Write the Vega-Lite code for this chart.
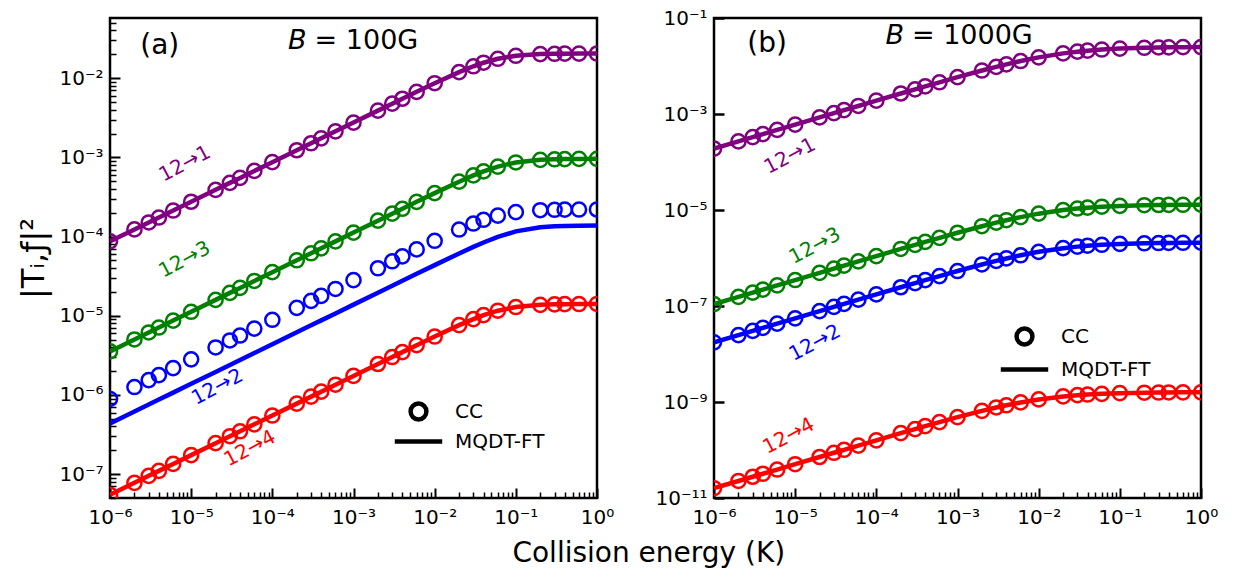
{
"$schema": "https://vega.github.io/schema/vega-lite/v6.json",
"background": "white",
"padding": {"left": 16, "top": 6, "right": 5, "bottom": 5},
"bounds": "flush",
"spacing": 117,
"config": {
  "view": {"stroke": "black", "strokeWidth": 2.5},
  "font": "DejaVu Sans",
  "axis": {"grid": false, "domain": false, "labelFont": "DejaVu Sans", "labelFontSize": 20, "labelColor": "black", "tickColor": "black", "titleFont": "DejaVu Sans", "titleFontWeight": "normal", "titleColor": "black", "labelFlush": false, "labelOverlap": false, "labelBound": false},
  "text": {"font": "DejaVu Sans"}
},
"title": {"text": "Collision energy (K)", "orient": "bottom", "anchor": "middle", "frame": "bounds", "fontSize": 28, "font": "DejaVu Sans", "fontWeight": "normal", "color": "black", "offset": 12, "dx": 31},
"datasets": {
"a": [
{"E":1e-6,"s":"12→1","cc":8.700e-5,"ft":8.700e-5},{"E":2e-6,"s":"12→1","cc":1.230e-4,"ft":1.230e-4},{"E":3e-6,"s":"12→1","cc":1.507e-4,"ft":1.507e-4},{"E":4e-6,"s":"12→1","cc":1.740e-4,"ft":1.740e-4},{"E":6e-6,"s":"12→1","cc":2.131e-4,"ft":2.131e-4},
{"E":1e-5,"s":"12→1","cc":2.751e-4,"ft":2.751e-4},{"E":2e-5,"s":"12→1","cc":3.891e-4,"ft":3.891e-4},{"E":3e-5,"s":"12→1","cc":4.765e-4,"ft":4.765e-4},{"E":4e-5,"s":"12→1","cc":5.503e-4,"ft":5.503e-4},{"E":6e-5,"s":"12→1","cc":6.739e-4,"ft":6.739e-4},
{"E":1e-4,"s":"12→1","cc":8.700e-4,"ft":8.700e-4},{"E":2e-4,"s":"12→1","cc":1.230e-3,"ft":1.230e-3},{"E":3e-4,"s":"12→1","cc":1.507e-3,"ft":1.507e-3},{"E":4e-4,"s":"12→1","cc":1.740e-3,"ft":1.740e-3},{"E":6e-4,"s":"12→1","cc":2.131e-3,"ft":2.131e-3},
{"E":1e-3,"s":"12→1","cc":2.751e-3,"ft":2.751e-3},{"E":2e-3,"s":"12→1","cc":3.890e-3,"ft":3.890e-3},{"E":3e-3,"s":"12→1","cc":4.762e-3,"ft":4.762e-3},{"E":4e-3,"s":"12→1","cc":5.496e-3,"ft":5.496e-3},{"E":6e-3,"s":"12→1","cc":6.719e-3,"ft":6.719e-3},
{"E":1e-2,"s":"12→1","cc":8.631e-3,"ft":8.631e-3},{"E":2e-2,"s":"12→1","cc":1.193e-2,"ft":1.193e-2},{"E":3e-2,"s":"12→1","cc":1.413e-2,"ft":1.413e-2},{"E":4e-2,"s":"12→1","cc":1.567e-2,"ft":1.567e-2},{"E":6e-2,"s":"12→1","cc":1.756e-2,"ft":1.756e-2},
{"E":0.1,"s":"12→1","cc":1.916e-2,"ft":1.916e-2},{"E":0.2,"s":"12→1","cc":2.012e-2,"ft":2.012e-2},{"E":0.3,"s":"12→1","cc":2.033e-2,"ft":2.033e-2},{"E":0.4,"s":"12→1","cc":2.040e-2,"ft":2.040e-2},{"E":0.6,"s":"12→1","cc":2.045e-2,"ft":2.045e-2},{"E":1,"s":"12→1","cc":2.048e-2,"ft":2.048e-2},
{"E":1e-6,"s":"12→3","cc":3.550e-6,"ft":3.550e-6},{"E":2e-6,"s":"12→3","cc":5.020e-6,"ft":5.020e-6},{"E":3e-6,"s":"12→3","cc":6.149e-6,"ft":6.149e-6},{"E":4e-6,"s":"12→3","cc":7.100e-6,"ft":7.100e-6},{"E":6e-6,"s":"12→3","cc":8.695e-6,"ft":8.695e-6},
{"E":1e-5,"s":"12→3","cc":1.123e-5,"ft":1.123e-5},{"E":2e-5,"s":"12→3","cc":1.588e-5,"ft":1.588e-5},{"E":3e-5,"s":"12→3","cc":1.944e-5,"ft":1.944e-5},{"E":4e-5,"s":"12→3","cc":2.245e-5,"ft":2.245e-5},{"E":6e-5,"s":"12→3","cc":2.750e-5,"ft":2.750e-5},
{"E":1e-4,"s":"12→3","cc":3.550e-5,"ft":3.550e-5},{"E":2e-4,"s":"12→3","cc":5.020e-5,"ft":5.020e-5},{"E":3e-4,"s":"12→3","cc":6.149e-5,"ft":6.149e-5},{"E":4e-4,"s":"12→3","cc":7.100e-5,"ft":7.100e-5},{"E":6e-4,"s":"12→3","cc":8.695e-5,"ft":8.695e-5},
{"E":1e-3,"s":"12→3","cc":1.123e-4,"ft":1.123e-4},{"E":2e-3,"s":"12→3","cc":1.587e-4,"ft":1.587e-4},{"E":3e-3,"s":"12→3","cc":1.944e-4,"ft":1.944e-4},{"E":4e-3,"s":"12→3","cc":2.244e-4,"ft":2.244e-4},{"E":6e-3,"s":"12→3","cc":2.745e-4,"ft":2.745e-4},
{"E":1e-2,"s":"12→3","cc":3.534e-4,"ft":3.534e-4},{"E":2e-2,"s":"12→3","cc":4.930e-4,"ft":4.930e-4},{"E":3e-2,"s":"12→3","cc":5.914e-4,"ft":5.914e-4},{"E":4e-2,"s":"12→3","cc":6.650e-4,"ft":6.650e-4},{"E":6e-2,"s":"12→3","cc":7.645e-4,"ft":7.645e-4},
{"E":0.1,"s":"12→3","cc":8.624e-4,"ft":8.624e-4},{"E":0.2,"s":"12→3","cc":9.302e-4,"ft":9.302e-4},{"E":0.3,"s":"12→3","cc":9.461e-4,"ft":9.461e-4},{"E":0.4,"s":"12→3","cc":9.521e-4,"ft":9.521e-4},{"E":0.6,"s":"12→3","cc":9.564e-4,"ft":9.564e-4},{"E":1,"s":"12→3","cc":9.589e-4,"ft":9.589e-4},
{"E":1e-6,"s":"12→2","cc":8.900e-7,"ft":4.370e-7},{"E":2e-6,"s":"12→2","cc":1.259e-6,"ft":6.180e-7},{"E":3e-6,"s":"12→2","cc":1.542e-6,"ft":7.569e-7},{"E":4e-6,"s":"12→2","cc":1.780e-6,"ft":8.740e-7},{"E":6e-6,"s":"12→2","cc":2.180e-6,"ft":1.070e-6},
{"E":1e-5,"s":"12→2","cc":2.814e-6,"ft":1.382e-6},{"E":2e-5,"s":"12→2","cc":3.980e-6,"ft":1.954e-6},{"E":3e-5,"s":"12→2","cc":4.875e-6,"ft":2.394e-6},{"E":4e-5,"s":"12→2","cc":5.629e-6,"ft":2.764e-6},{"E":6e-5,"s":"12→2","cc":6.894e-6,"ft":3.385e-6},
{"E":1e-4,"s":"12→2","cc":8.900e-6,"ft":4.370e-6},{"E":2e-4,"s":"12→2","cc":1.259e-5,"ft":6.180e-6},{"E":3e-4,"s":"12→2","cc":1.542e-5,"ft":7.569e-6},{"E":4e-4,"s":"12→2","cc":1.780e-5,"ft":8.740e-6},{"E":6e-4,"s":"12→2","cc":2.180e-5,"ft":1.070e-5},
{"E":1e-3,"s":"12→2","cc":2.814e-5,"ft":1.382e-5},{"E":2e-3,"s":"12→2","cc":3.979e-5,"ft":1.954e-5},{"E":3e-3,"s":"12→2","cc":4.872e-5,"ft":2.393e-5},{"E":4e-3,"s":"12→2","cc":5.623e-5,"ft":2.763e-5},{"E":6e-3,"s":"12→2","cc":6.877e-5,"ft":3.382e-5},
{"E":1e-2,"s":"12→2","cc":8.841e-5,"ft":4.359e-5},{"E":2e-2,"s":"12→2","cc":1.227e-4,"ft":6.120e-5},{"E":3e-2,"s":"12→2","cc":1.460e-4,"ft":7.408e-5},{"E":4e-2,"s":"12→2","cc":1.628e-4,"ft":8.422e-5},{"E":6e-2,"s":"12→2","cc":1.842e-4,"ft":9.912e-5},
{"E":0.1,"s":"12→2","cc":2.032e-4,"ft":1.162e-4},{"E":0.2,"s":"12→2","cc":2.151e-4,"ft":1.307e-4},{"E":0.3,"s":"12→2","cc":2.178e-4,"ft":1.346e-4},{"E":0.4,"s":"12→2","cc":2.187e-4,"ft":1.361e-4},{"E":0.6,"s":"12→2","cc":2.194e-4,"ft":1.373e-4},{"E":1,"s":"12→2","cc":2.197e-4,"ft":1.378e-4},
{"E":1e-6,"s":"12→4","cc":5.500e-8,"ft":5.500e-8},{"E":2e-6,"s":"12→4","cc":7.778e-8,"ft":7.778e-8},{"E":3e-6,"s":"12→4","cc":9.526e-8,"ft":9.526e-8},{"E":4e-6,"s":"12→4","cc":1.100e-7,"ft":1.100e-7},{"E":6e-6,"s":"12→4","cc":1.347e-7,"ft":1.347e-7},
{"E":1e-5,"s":"12→4","cc":1.739e-7,"ft":1.739e-7},{"E":2e-5,"s":"12→4","cc":2.460e-7,"ft":2.460e-7},{"E":3e-5,"s":"12→4","cc":3.013e-7,"ft":3.013e-7},{"E":4e-5,"s":"12→4","cc":3.479e-7,"ft":3.479e-7},{"E":6e-5,"s":"12→4","cc":4.260e-7,"ft":4.260e-7},
{"E":1e-4,"s":"12→4","cc":5.500e-7,"ft":5.500e-7},{"E":2e-4,"s":"12→4","cc":7.778e-7,"ft":7.778e-7},{"E":3e-4,"s":"12→4","cc":9.526e-7,"ft":9.526e-7},{"E":4e-4,"s":"12→4","cc":1.100e-6,"ft":1.100e-6},{"E":6e-4,"s":"12→4","cc":1.347e-6,"ft":1.347e-6},
{"E":1e-3,"s":"12→4","cc":1.739e-6,"ft":1.739e-6},{"E":2e-3,"s":"12→4","cc":2.460e-6,"ft":2.460e-6},{"E":3e-3,"s":"12→4","cc":3.011e-6,"ft":3.011e-6},{"E":4e-3,"s":"12→4","cc":3.475e-6,"ft":3.475e-6},{"E":6e-3,"s":"12→4","cc":4.251e-6,"ft":4.251e-6},
{"E":1e-2,"s":"12→4","cc":5.469e-6,"ft":5.469e-6},{"E":2e-2,"s":"12→4","cc":7.608e-6,"ft":7.608e-6},{"E":3e-2,"s":"12→4","cc":9.086e-6,"ft":9.086e-6},{"E":4e-2,"s":"12→4","cc":1.017e-5,"ft":1.017e-5},{"E":6e-2,"s":"12→4","cc":1.158e-5,"ft":1.158e-5},
{"E":0.1,"s":"12→4","cc":1.289e-5,"ft":1.289e-5},{"E":0.2,"s":"12→4","cc":1.374e-5,"ft":1.374e-5},{"E":0.3,"s":"12→4","cc":1.393e-5,"ft":1.393e-5},{"E":0.4,"s":"12→4","cc":1.400e-5,"ft":1.400e-5},{"E":0.6,"s":"12→4","cc":1.406e-5,"ft":1.406e-5},{"E":1,"s":"12→4","cc":1.409e-5,"ft":1.409e-5}
],
"b": [
{"E":1e-6,"s":"12→1","cc":1.901e-4,"ft":1.901e-4},{"E":2e-6,"s":"12→1","cc":2.688e-4,"ft":2.688e-4},{"E":3e-6,"s":"12→1","cc":3.292e-4,"ft":3.292e-4},{"E":4e-6,"s":"12→1","cc":3.801e-4,"ft":3.801e-4},{"E":6e-6,"s":"12→1","cc":4.655e-4,"ft":4.655e-4},
{"E":1e-5,"s":"12→1","cc":6.008e-4,"ft":6.008e-4},{"E":2e-5,"s":"12→1","cc":8.495e-4,"ft":8.495e-4},{"E":3e-5,"s":"12→1","cc":1.040e-3,"ft":1.040e-3},{"E":4e-5,"s":"12→1","cc":1.201e-3,"ft":1.201e-3},{"E":6e-5,"s":"12→1","cc":1.470e-3,"ft":1.470e-3},
{"E":1e-4,"s":"12→1","cc":1.895e-3,"ft":1.895e-3},{"E":2e-4,"s":"12→1","cc":2.673e-3,"ft":2.673e-3},{"E":3e-4,"s":"12→1","cc":3.264e-3,"ft":3.264e-3},{"E":4e-4,"s":"12→1","cc":3.758e-3,"ft":3.758e-3},{"E":6e-4,"s":"12→1","cc":4.577e-3,"ft":4.577e-3},
{"E":1e-3,"s":"12→1","cc":5.844e-3,"ft":5.844e-3},{"E":2e-3,"s":"12→1","cc":8.048e-3,"ft":8.048e-3},{"E":3e-3,"s":"12→1","cc":9.610e-3,"ft":9.610e-3},{"E":4e-3,"s":"12→1","cc":1.084e-2,"ft":1.084e-2},{"E":6e-3,"s":"12→1","cc":1.269e-2,"ft":1.269e-2},
{"E":1e-2,"s":"12→1","cc":1.513e-2,"ft":1.513e-2},{"E":2e-2,"s":"12→1","cc":1.831e-2,"ft":1.831e-2},{"E":3e-2,"s":"12→1","cc":1.991e-2,"ft":1.991e-2},{"E":4e-2,"s":"12→1","cc":2.089e-2,"ft":2.089e-2},{"E":6e-2,"s":"12→1","cc":2.203e-2,"ft":2.203e-2},
{"E":0.1,"s":"12→1","cc":2.308e-2,"ft":2.308e-2},{"E":0.2,"s":"12→1","cc":2.398e-2,"ft":2.398e-2},{"E":0.3,"s":"12→1","cc":2.431e-2,"ft":2.431e-2},{"E":0.4,"s":"12→1","cc":2.448e-2,"ft":2.448e-2},{"E":0.6,"s":"12→1","cc":2.465e-2,"ft":2.465e-2},{"E":1,"s":"12→1","cc":2.479e-2,"ft":2.479e-2},
{"E":1e-6,"s":"12→3","cc":1.099e-7,"ft":1.099e-7},{"E":2e-6,"s":"12→3","cc":1.554e-7,"ft":1.554e-7},{"E":3e-6,"s":"12→3","cc":1.903e-7,"ft":1.903e-7},{"E":4e-6,"s":"12→3","cc":2.197e-7,"ft":2.197e-7},{"E":6e-6,"s":"12→3","cc":2.691e-7,"ft":2.691e-7},
{"E":1e-5,"s":"12→3","cc":3.473e-7,"ft":3.473e-7},{"E":2e-5,"s":"12→3","cc":4.910e-7,"ft":4.910e-7},{"E":3e-5,"s":"12→3","cc":6.011e-7,"ft":6.011e-7},{"E":4e-5,"s":"12→3","cc":6.939e-7,"ft":6.939e-7},{"E":6e-5,"s":"12→3","cc":8.492e-7,"ft":8.492e-7},
{"E":1e-4,"s":"12→3","cc":1.095e-6,"ft":1.095e-6},{"E":2e-4,"s":"12→3","cc":1.543e-6,"ft":1.543e-6},{"E":3e-4,"s":"12→3","cc":1.883e-6,"ft":1.883e-6},{"E":4e-4,"s":"12→3","cc":2.167e-6,"ft":2.167e-6},{"E":6e-4,"s":"12→3","cc":2.635e-6,"ft":2.635e-6},
{"E":1e-3,"s":"12→3","cc":3.357e-6,"ft":3.357e-6},{"E":2e-3,"s":"12→3","cc":4.596e-6,"ft":4.596e-6},{"E":3e-3,"s":"12→3","cc":5.461e-6,"ft":5.461e-6},{"E":4e-3,"s":"12→3","cc":6.128e-6,"ft":6.128e-6},{"E":6e-3,"s":"12→3","cc":7.120e-6,"ft":7.120e-6},
{"E":1e-2,"s":"12→3","cc":8.391e-6,"ft":8.391e-6},{"E":2e-2,"s":"12→3","cc":9.971e-6,"ft":9.971e-6},{"E":3e-2,"s":"12→3","cc":1.073e-5,"ft":1.073e-5},{"E":4e-2,"s":"12→3","cc":1.119e-5,"ft":1.119e-5},{"E":6e-2,"s":"12→3","cc":1.171e-5,"ft":1.171e-5},
{"E":0.1,"s":"12→3","cc":1.218e-5,"ft":1.218e-5},{"E":0.2,"s":"12→3","cc":1.257e-5,"ft":1.257e-5},{"E":0.3,"s":"12→3","cc":1.271e-5,"ft":1.271e-5},{"E":0.4,"s":"12→3","cc":1.278e-5,"ft":1.278e-5},{"E":0.6,"s":"12→3","cc":1.285e-5,"ft":1.285e-5},{"E":1,"s":"12→3","cc":1.291e-5,"ft":1.291e-5},
{"E":1e-6,"s":"12→2","cc":1.750e-8,"ft":1.750e-8},{"E":2e-6,"s":"12→2","cc":2.475e-8,"ft":2.475e-8},{"E":3e-6,"s":"12→2","cc":3.031e-8,"ft":3.031e-8},{"E":4e-6,"s":"12→2","cc":3.500e-8,"ft":3.500e-8},{"E":6e-6,"s":"12→2","cc":4.286e-8,"ft":4.286e-8},
{"E":1e-5,"s":"12→2","cc":5.532e-8,"ft":5.532e-8},{"E":2e-5,"s":"12→2","cc":7.821e-8,"ft":7.821e-8},{"E":3e-5,"s":"12→2","cc":9.575e-8,"ft":9.575e-8},{"E":4e-5,"s":"12→2","cc":1.105e-7,"ft":1.105e-7},{"E":6e-5,"s":"12→2","cc":1.353e-7,"ft":1.353e-7},
{"E":1e-4,"s":"12→2","cc":1.744e-7,"ft":1.744e-7},{"E":2e-4,"s":"12→2","cc":2.458e-7,"ft":2.458e-7},{"E":3e-4,"s":"12→2","cc":3.000e-7,"ft":3.000e-7},{"E":4e-4,"s":"12→2","cc":3.452e-7,"ft":3.452e-7},{"E":6e-4,"s":"12→2","cc":4.200e-7,"ft":4.200e-7},
{"E":1e-3,"s":"12→2","cc":5.351e-7,"ft":5.351e-7},{"E":2e-3,"s":"12→2","cc":7.334e-7,"ft":7.334e-7},{"E":3e-3,"s":"12→2","cc":8.720e-7,"ft":8.720e-7},{"E":4e-3,"s":"12→2","cc":9.791e-7,"ft":9.791e-7},{"E":6e-3,"s":"12→2","cc":1.139e-6,"ft":1.139e-6},
{"E":1e-2,"s":"12→2","cc":1.344e-6,"ft":1.344e-6},{"E":2e-2,"s":"12→2","cc":1.601e-6,"ft":1.601e-6},{"E":3e-2,"s":"12→2","cc":1.726e-6,"ft":1.726e-6},{"E":4e-2,"s":"12→2","cc":1.801e-6,"ft":1.801e-6},{"E":6e-2,"s":"12→2","cc":1.886e-6,"ft":1.886e-6},
{"E":0.1,"s":"12→2","cc":1.963e-6,"ft":1.963e-6},{"E":0.2,"s":"12→2","cc":2.028e-6,"ft":2.028e-6},{"E":0.3,"s":"12→2","cc":2.051e-6,"ft":2.051e-6},{"E":0.4,"s":"12→2","cc":2.063e-6,"ft":2.063e-6},{"E":0.6,"s":"12→2","cc":2.075e-6,"ft":2.075e-6},{"E":1,"s":"12→2","cc":2.085e-6,"ft":2.085e-6},
{"E":1e-6,"s":"12→4","cc":1.600e-11,"ft":1.600e-11},{"E":2e-6,"s":"12→4","cc":2.263e-11,"ft":2.263e-11},{"E":3e-6,"s":"12→4","cc":2.771e-11,"ft":2.771e-11},{"E":4e-6,"s":"12→4","cc":3.199e-11,"ft":3.199e-11},{"E":6e-6,"s":"12→4","cc":3.918e-11,"ft":3.918e-11},
{"E":1e-5,"s":"12→4","cc":5.057e-11,"ft":5.057e-11},{"E":2e-5,"s":"12→4","cc":7.148e-11,"ft":7.148e-11},{"E":3e-5,"s":"12→4","cc":8.751e-11,"ft":8.751e-11},{"E":4e-5,"s":"12→4","cc":1.010e-10,"ft":1.010e-10},{"E":6e-5,"s":"12→4","cc":1.236e-10,"ft":1.236e-10},
{"E":1e-4,"s":"12→4","cc":1.592e-10,"ft":1.592e-10},{"E":2e-4,"s":"12→4","cc":2.240e-10,"ft":2.240e-10},{"E":3e-4,"s":"12→4","cc":2.731e-10,"ft":2.731e-10},{"E":4e-4,"s":"12→4","cc":3.138e-10,"ft":3.138e-10},{"E":6e-4,"s":"12→4","cc":3.807e-10,"ft":3.807e-10},
{"E":1e-3,"s":"12→4","cc":4.824e-10,"ft":4.824e-10},{"E":2e-3,"s":"12→4","cc":6.532e-10,"ft":6.532e-10},{"E":3e-3,"s":"12→4","cc":7.686e-10,"ft":7.686e-10},{"E":4e-3,"s":"12→4","cc":8.552e-10,"ft":8.552e-10},{"E":6e-3,"s":"12→4","cc":9.798e-10,"ft":9.798e-10},
{"E":1e-2,"s":"12→4","cc":1.131e-9,"ft":1.131e-9},{"E":2e-2,"s":"12→4","cc":1.306e-9,"ft":1.306e-9},{"E":3e-2,"s":"12→4","cc":1.386e-9,"ft":1.386e-9},{"E":4e-2,"s":"12→4","cc":1.431e-9,"ft":1.431e-9},{"E":6e-2,"s":"12→4","cc":1.481e-9,"ft":1.481e-9},
{"E":0.1,"s":"12→4","cc":1.526e-9,"ft":1.526e-9},{"E":0.2,"s":"12→4","cc":1.562e-9,"ft":1.562e-9},{"E":0.3,"s":"12→4","cc":1.574e-9,"ft":1.574e-9},{"E":0.4,"s":"12→4","cc":1.580e-9,"ft":1.580e-9},{"E":0.6,"s":"12→4","cc":1.587e-9,"ft":1.587e-9},{"E":1,"s":"12→4","cc":1.592e-9,"ft":1.592e-9}
],
"ann": [
{"p":"a","k":"lab","s":"12→1","t":"12→1","E":8.4e-6,"y":8.3e-4},
{"p":"a","k":"lab","s":"12→3","t":"12→3","E":8.3e-6,"y":5.1e-5},
{"p":"a","k":"lab","s":"12→2","t":"12→2","E":2.1e-5,"y":1.26e-6},
{"p":"a","k":"lab","s":"12→4","t":"12→4","E":5.3e-5,"y":2.1e-7},
{"p":"b","k":"lab","s":"12→1","t":"12→1","E":8.6e-6,"y":1.33e-4},
{"p":"b","k":"lab","s":"12→3","t":"12→3","E":1.75e-5,"y":1.78e-6},
{"p":"b","k":"lab","s":"12→2","t":"12→2","E":1.75e-5,"y":1.7e-8},
{"p":"b","k":"lab","s":"12→4","t":"12→4","E":8.3e-6,"y":1.95e-10},
{"p":"a","k":"tag","t":"(a)","E":4.1e-6,"y":0.0254},
{"p":"a","k":"B","t":"B","E":2.96e-4,"y":0.0295},
{"p":"a","k":"val","t":"= 100G","E":2.96e-4,"y":0.0295},
{"p":"b","k":"tag","t":"(b)","E":4.5e-6,"y":0.029},
{"p":"b","k":"B","t":"B","E":2.45e-4,"y":0.042},
{"p":"b","k":"val","t":"= 1000G","E":2.45e-4,"y":0.042}
]
},
"resolve": {"scale": {"x": "independent", "y": "independent", "shape": "independent"}, "legend": {"shape": "independent"}},
"hconcat": [
{
"width": 487, "height": 480,
"resolve": {"axis": {"x": "independent", "y": "independent"}},
"layer": [
{"data": {"name": "a"}, "mark": {"type": "line", "strokeWidth": 4.5, "clip": true},
 "encoding": {
  "x": {"field": "E", "type": "quantitative", "scale": {"type": "log", "domain": [1e-6, 1], "nice": false},
        "axis": {"orient": "bottom", "title": null, "values": [1e-6,1e-5,1e-4,1e-3,1e-2,1e-1,1], "tickSize": -10, "tickWidth": 2, "labelPadding": 19, "labelExpr": "'10' + (datum.value < 1 ? '⁻' : '') + ['⁰','¹','²','³','⁴','⁵','⁶','⁷','⁸','⁹','¹⁰','¹¹'][abs(round(log(datum.value) / LN10))]"}},
  "y": {"field": "ft", "type": "quantitative", "scale": {"type": "log", "domain": [5e-8, 0.0575], "nice": false},
        "axis": {"orient": "left", "title": "|Tᵢ,ƒ|²", "titleFontSize": 32, "titlePadding": 8, "values": [1e-7,1e-6,1e-5,1e-4,1e-3,1e-2], "tickSize": -10, "tickWidth": 2, "labelPadding": 17, "labelBaseline": "middle", "labelExpr": "'10' + (datum.value < 1 ? '⁻' : '') + ['⁰','¹','²','³','⁴','⁵','⁶','⁷','⁸','⁹','¹⁰','¹¹'][abs(round(log(datum.value) / LN10))]"}},
  "color": {"field": "s", "type": "nominal", "scale": {"domain": ["12→1","12→3","12→2","12→4"], "range": ["#800080","#008000","#0000ff","#ff0000"]}, "legend": null}
 }},
{"data": {"name": "a"}, "mark": {"type": "point", "filled": false, "size": 200, "strokeWidth": 2.5, "opacity": 1, "clip": true},
 "encoding": {
  "x": {"field": "E", "type": "quantitative", "axis": {"orient": "bottom", "title": null, "labels": false, "tickSize": -6, "tickWidth": 1.5, "values": [2e-6,3e-6,4e-6,5e-6,6e-6,7e-6,8e-6,9e-6,2e-5,3e-5,4e-5,5e-5,6e-5,7e-5,8e-5,9e-5,2e-4,3e-4,4e-4,5e-4,6e-4,7e-4,8e-4,9e-4,2e-3,3e-3,4e-3,5e-3,6e-3,7e-3,8e-3,9e-3,2e-2,3e-2,4e-2,5e-2,6e-2,7e-2,8e-2,9e-2,0.2,0.3,0.4,0.5,0.6,0.7,0.8,0.9]}},
  "y": {"field": "cc", "type": "quantitative", "axis": {"orient": "left", "title": null, "labels": false, "tickSize": -6, "tickWidth": 1.5, "values": [5e-8,6e-8,7e-8,8e-8,9e-8,2e-7,3e-7,4e-7,5e-7,6e-7,7e-7,8e-7,9e-7,2e-6,3e-6,4e-6,5e-6,6e-6,7e-6,8e-6,9e-6,2e-5,3e-5,4e-5,5e-5,6e-5,7e-5,8e-5,9e-5,2e-4,3e-4,4e-4,5e-4,6e-4,7e-4,8e-4,9e-4,2e-3,3e-3,4e-3,5e-3,6e-3,7e-3,8e-3,9e-3,0.02,0.03,0.04,0.05]}},
  "color": {"field": "s", "type": "nominal", "legend": null},
  "shape": {"datum": "CC", "type": "nominal", "scale": {"domain": ["CC","MQDT-FT"], "range": ["circle","M-3,0H3"]},
    "legend": {"title": null, "orient": "none", "legendX": 298, "legendY": 383, "symbolSize": 250, "symbolStrokeWidth": 4.5, "symbolStrokeColor": "black", "symbolFillColor": "transparent", "labelFont": "DejaVu Sans", "labelFontSize": 20, "labelColor": "black", "labelOffset": 26, "rowPadding": 2, "padding": 0,
      "encode": {"symbols": {"update": {"stroke": {"value": "black"}, "fill": {"value": "transparent"}, "opacity": {"value": 1}, "strokeWidth": {"signal": "datum.value === 'CC' ? 4.5 : 6.5"}}}}}}
 }},
{"data": {"name": "ann"}, "transform": [{"filter": "datum.p === 'a' && datum.k === 'lab'"}],
 "mark": {"type": "text", "angle": 332, "fontSize": 20, "align": "center", "baseline": "middle"},
 "encoding": {"x": {"field": "E", "type": "quantitative", "axis": null}, "y": {"field": "y", "type": "quantitative", "axis": null}, "color": {"field": "s", "type": "nominal", "legend": null}, "text": {"field": "t"}}},
{"data": {"name": "ann"}, "transform": [{"filter": "datum.p === 'a' && datum.k === 'tag'"}],
 "mark": {"type": "text", "fontSize": 28, "align": "center", "baseline": "middle", "color": "black"},
 "encoding": {"x": {"field": "E", "type": "quantitative", "axis": null}, "y": {"field": "y", "type": "quantitative", "axis": null}, "text": {"field": "t"}}},
{"data": {"name": "ann"}, "transform": [{"filter": "datum.p === 'a' && datum.k === 'B'"}],
 "mark": {"type": "text", "fontSize": 27, "fontStyle": "italic", "align": "right", "baseline": "middle", "dx": -4, "color": "black"},
 "encoding": {"x": {"field": "E", "type": "quantitative", "axis": null}, "y": {"field": "y", "type": "quantitative", "axis": null}, "text": {"field": "t"}}},
{"data": {"name": "ann"}, "transform": [{"filter": "datum.p === 'a' && datum.k === 'val'"}],
 "mark": {"type": "text", "fontSize": 27, "align": "left", "baseline": "middle", "dx": 4, "color": "black"},
 "encoding": {"x": {"field": "E", "type": "quantitative", "axis": null}, "y": {"field": "y", "type": "quantitative", "axis": null}, "text": {"field": "t"}}}
]
},
{
"width": 487, "height": 480,
"resolve": {"axis": {"x": "independent", "y": "independent"}},
"layer": [
{"data": {"name": "b"}, "mark": {"type": "line", "strokeWidth": 4.5, "clip": true},
 "encoding": {
  "x": {"field": "E", "type": "quantitative", "scale": {"type": "log", "domain": [1e-6, 1], "nice": false},
        "axis": {"orient": "bottom", "title": null, "values": [1e-6,1e-5,1e-4,1e-3,1e-2,1e-1,1], "tickSize": -10, "tickWidth": 2, "labelPadding": 19, "labelExpr": "'10' + (datum.value < 1 ? '⁻' : '') + ['⁰','¹','²','³','⁴','⁵','⁶','⁷','⁸','⁹','¹⁰','¹¹'][abs(round(log(datum.value) / LN10))]"}},
  "y": {"field": "ft", "type": "quantitative", "scale": {"type": "log", "domain": [1e-11, 0.1], "nice": false},
        "axis": {"orient": "left", "title": null, "values": [1e-11,1e-9,1e-7,1e-5,1e-3,1e-1], "tickSize": -10, "tickWidth": 2.5, "labelPadding": 17, "labelBaseline": "middle", "labelExpr": "'10' + (datum.value < 1 ? '⁻' : '') + ['⁰','¹','²','³','⁴','⁵','⁶','⁷','⁸','⁹','¹⁰','¹¹'][abs(round(log(datum.value) / LN10))]"}},
  "color": {"field": "s", "type": "nominal", "scale": {"domain": ["12→1","12→3","12→2","12→4"], "range": ["#800080","#008000","#0000ff","#ff0000"]}, "legend": null}
 }},
{"data": {"name": "b"}, "mark": {"type": "point", "filled": false, "size": 200, "strokeWidth": 2.5, "opacity": 1, "clip": true},
 "encoding": {
  "x": {"field": "E", "type": "quantitative", "axis": {"orient": "bottom", "title": null, "labels": false, "tickSize": -6, "tickWidth": 1.5, "values": [2e-6,3e-6,4e-6,5e-6,6e-6,7e-6,8e-6,9e-6,2e-5,3e-5,4e-5,5e-5,6e-5,7e-5,8e-5,9e-5,2e-4,3e-4,4e-4,5e-4,6e-4,7e-4,8e-4,9e-4,2e-3,3e-3,4e-3,5e-3,6e-3,7e-3,8e-3,9e-3,2e-2,3e-2,4e-2,5e-2,6e-2,7e-2,8e-2,9e-2,0.2,0.3,0.4,0.5,0.6,0.7,0.8,0.9]}},
  "y": {"field": "cc", "type": "quantitative", "axis": null},
  "color": {"field": "s", "type": "nominal", "legend": null},
  "shape": {"datum": "CC", "type": "nominal", "scale": {"domain": ["CC","MQDT-FT"], "range": ["circle","M-3,0H3"]},
    "legend": {"title": null, "orient": "none", "legendX": 300, "legendY": 308, "symbolSize": 250, "symbolStrokeWidth": 4.5, "symbolStrokeColor": "black", "symbolFillColor": "transparent", "labelFont": "DejaVu Sans", "labelFontSize": 20, "labelColor": "black", "labelOffset": 26, "rowPadding": 5, "padding": 0,
      "encode": {"symbols": {"update": {"stroke": {"value": "black"}, "fill": {"value": "transparent"}, "opacity": {"value": 1}, "strokeWidth": {"signal": "datum.value === 'CC' ? 4.5 : 6.5"}}}}}}
 }},
{"data": {"name": "ann"}, "transform": [{"filter": "datum.p === 'b' && datum.k === 'lab'"}],
 "mark": {"type": "text", "angle": 332, "fontSize": 20, "align": "center", "baseline": "middle"},
 "encoding": {"x": {"field": "E", "type": "quantitative", "axis": null}, "y": {"field": "y", "type": "quantitative", "axis": null}, "color": {"field": "s", "type": "nominal", "legend": null}, "text": {"field": "t"}}},
{"data": {"name": "ann"}, "transform": [{"filter": "datum.p === 'b' && datum.k === 'tag'"}],
 "mark": {"type": "text", "fontSize": 28, "align": "center", "baseline": "middle", "color": "black"},
 "encoding": {"x": {"field": "E", "type": "quantitative", "axis": null}, "y": {"field": "y", "type": "quantitative", "axis": null}, "text": {"field": "t"}}},
{"data": {"name": "ann"}, "transform": [{"filter": "datum.p === 'b' && datum.k === 'B'"}],
 "mark": {"type": "text", "fontSize": 27, "fontStyle": "italic", "align": "right", "baseline": "middle", "dx": -4, "color": "black"},
 "encoding": {"x": {"field": "E", "type": "quantitative", "axis": null}, "y": {"field": "y", "type": "quantitative", "axis": null}, "text": {"field": "t"}}},
{"data": {"name": "ann"}, "transform": [{"filter": "datum.p === 'b' && datum.k === 'val'"}],
 "mark": {"type": "text", "fontSize": 27, "align": "left", "baseline": "middle", "dx": 4, "color": "black"},
 "encoding": {"x": {"field": "E", "type": "quantitative", "axis": null}, "y": {"field": "y", "type": "quantitative", "axis": null}, "text": {"field": "t"}}}
]
}
]
}
